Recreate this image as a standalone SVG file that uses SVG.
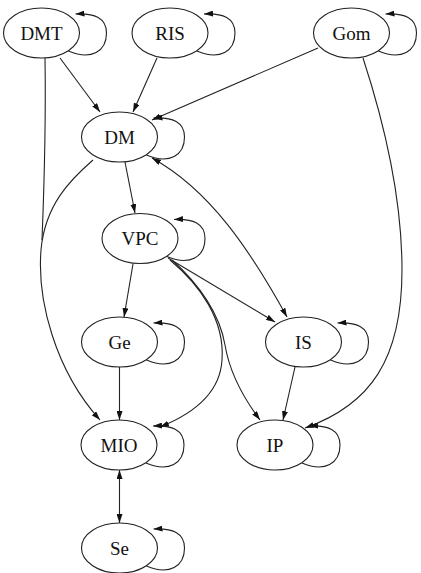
<svg xmlns="http://www.w3.org/2000/svg" width="421" height="573" viewBox="0 0 421 573">
<style>
.n ellipse{fill:#fff;stroke:#222;stroke-width:1.1}
.n text{font-family:'Liberation Serif','DejaVu Serif',serif;font-size:19px;fill:#111;text-anchor:middle}
.e path{fill:none;stroke:#222;stroke-width:1.1}
.a{marker-end:url(#ah)}
.b{marker-start:url(#ah);marker-end:url(#ah)}
</style>
<defs>
<marker id="ah" markerUnits="userSpaceOnUse" markerWidth="9" markerHeight="6" refX="9" refY="3" orient="auto-start-reverse"><path d="M0,0 L9,3 L0,6 z" fill="#111"/></marker>
</defs>
<g class="e" id="edges">
<path class="a" d="M60,58 L100,112"/>
<path class="a" d="M157,58 L133,112"/>
<path class="a" d="M318,48 L152,120"/>
<path class="a" d="M363,58 C380,110 402,190 402,270 C402,360 370,405 305,428"/>
<path d="M45,58 C46,120 44,190 42,240"/>
<path class="a" d="M93,160 C70,180 45,205 41,250 C37,300 55,370 100,420"/>
<path class="a" d="M125,162 L135,213"/>
<path class="b" d="M152,158 C210,190 250,250 287,317"/>
<path class="a" d="M168,258 L275,322"/>
<path class="a" d="M133,264 L124,317"/>
<path class="a" d="M170,260 C200,285 225,320 222,360 C220,395 190,415 160,427"/>
<path class="a" d="M172,260 C200,285 220,315 225,345 C230,375 245,400 260,420"/>
<path class="a" d="M119.5,367 L119.5,420"/>
<path class="a" d="M295,367 L283,420"/>
<path class="b" d="M119.5,470 L119.5,523"/>
<path class="a" d="M68.5,51 C91.5,61 106.5,51 106.5,33 C106.5,18 94.5,13 75.5,14"/>
<path class="a" d="M197,51 C220,61 235,51 235,33 C235,18 223,13 204,14"/>
<path class="a" d="M378.5,51 C401.5,61 416.5,51 416.5,33 C416.5,18 404.5,13 385.5,14"/>
<path class="a" d="M146.5,155 C169.5,165 184.5,155 184.5,137 C184.5,122 172.5,117 153.5,118"/>
<path class="a" d="M167,256.5 C190,266.5 205,256.5 205,238.5 C205,223.5 193,218.5 174,219.5"/>
<path class="a" d="M146.5,360 C169.5,370 184.5,360 184.5,342 C184.5,327 172.5,322 153.5,323"/>
<path class="a" d="M330.5,360 C353.5,370 368.5,360 368.5,342 C368.5,327 356.5,322 337.5,323"/>
<path class="a" d="M146,463 C169,473 184,463 184,445 C184,430 172,425 153,426"/>
<path class="a" d="M302,463 C325,473 340,463 340,445 C340,430 328,425 309,426"/>
<path class="a" d="M146.5,566 C169.5,576 184.5,566 184.5,548 C184.5,533 172.5,528 153.5,529"/>
</g>
<g class="n" id="DMT"><ellipse cx="41.5" cy="33" rx="38" ry="25"/><text x="41.5" y="39.5">DMT</text></g>
<g class="n" id="RIS"><ellipse cx="170" cy="33" rx="38" ry="25"/><text x="170" y="39.5">RIS</text></g>
<g class="n" id="Gom"><ellipse cx="351.5" cy="33" rx="38" ry="25"/><text x="351.5" y="39.5">Gom</text></g>
<g class="n" id="DM"><ellipse cx="119.5" cy="137" rx="38" ry="25"/><text x="119.5" y="143.5">DM</text></g>
<g class="n" id="VPC"><ellipse cx="140" cy="238.5" rx="38" ry="25"/><text x="140" y="245">VPC</text></g>
<g class="n" id="Ge"><ellipse cx="119.5" cy="342" rx="38" ry="25"/><text x="119.5" y="348.5">Ge</text></g>
<g class="n" id="IS"><ellipse cx="303.5" cy="342" rx="38" ry="25"/><text x="303.5" y="348.5">IS</text></g>
<g class="n" id="MIO"><ellipse cx="119" cy="445" rx="38" ry="25"/><text x="119" y="451.5">MIO</text></g>
<g class="n" id="IP"><ellipse cx="275" cy="445" rx="38" ry="25"/><text x="275" y="451.5">IP</text></g>
<g class="n" id="Se"><ellipse cx="119.5" cy="548" rx="38" ry="25"/><text x="119.5" y="554.5">Se</text></g>
</svg>
